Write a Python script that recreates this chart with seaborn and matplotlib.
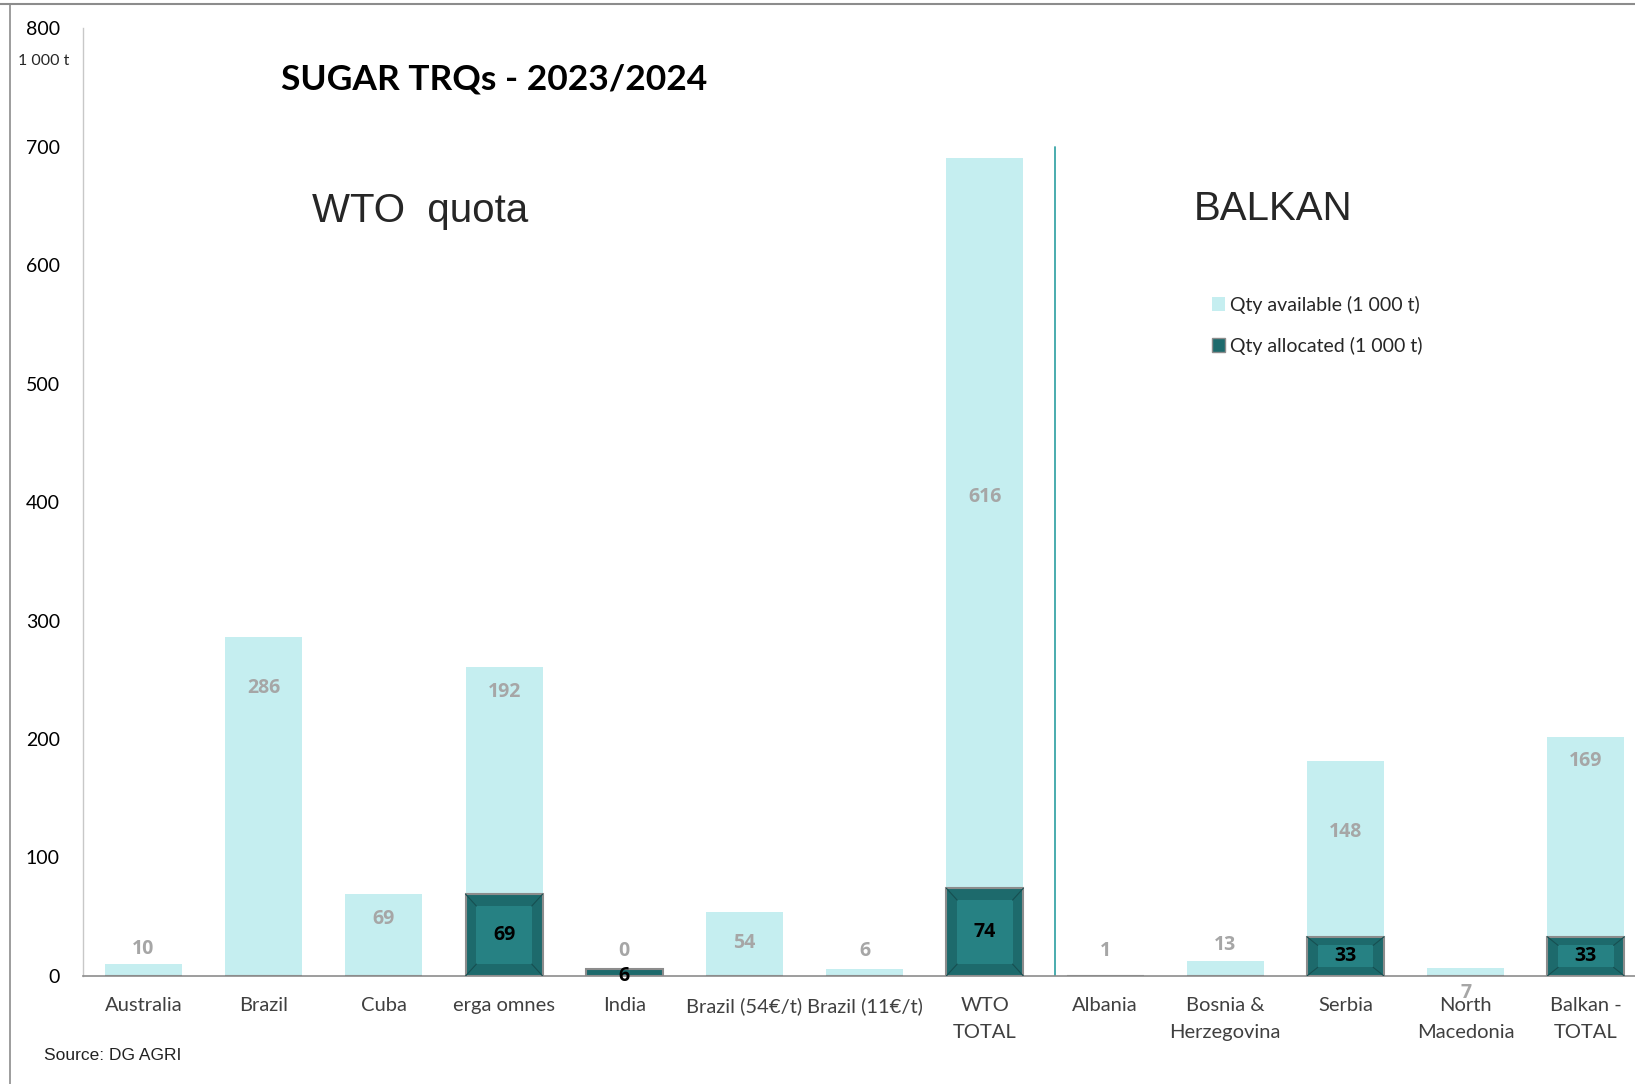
import matplotlib
matplotlib.use("Agg")
import matplotlib.pyplot as plt
import seaborn as sns
import pandas as pd
from matplotlib.patches import Patch, Rectangle
from matplotlib.lines import Line2D

# data (1 000 t)
categories = ['Australia', 'Brazil', 'Cuba', 'erga omnes', 'India',
              'Brazil (54€/t)', 'Brazil (11€/t)', 'WTO\nTOTAL', 'Albania',
              'Bosnia &\nHerzegovina', 'Serbia', 'North\nMacedonia',
              'Balkan -\nTOTAL']
qty_available = [10, 286, 69, 192, 0, 54, 6, 616, 1, 13, 148, 7, 169]
qty_allocated = [0, 0, 0, 69, 6, 0, 0, 74, 0, 0, 33, 0, 33]

df = pd.DataFrame({'cat': categories, 'avail': qty_available,
                   'alloc': qty_allocated})
df['total'] = df['avail'] + df['alloc']

LIGHT = '#c5eef0'
DARK = '#1d6a6c'
DARK_IN = '#268183'
GRAY_LBL = '#a6a6a6'

sns.set_theme(style='white')
plt.rcParams['font.family'] = ['Lato', 'DejaVu Sans']

fig = plt.figure(figsize=(16.35, 10.84), dpi=100)
ax = fig.add_axes([0.051, 0.0997, 0.9557, 0.8743])

sns.barplot(data=df, x='cat', y='total', order=categories, color=LIGHT,
            saturation=1, width=0.64, ax=ax, edgecolor='none')
n_light = len(ax.patches)
sns.barplot(data=df, x='cat', y='alloc', order=categories, color=DARK,
            saturation=1, width=0.64, ax=ax, edgecolor='#8c8c8c', linewidth=1.5)
dark_patches = ax.patches[n_light:]

# bevel look on allocated bars
for p in dark_patches:
    h = p.get_height()
    if h < 10:
        continue
    x0, w = p.get_x(), p.get_width()
    dx = w * 0.14
    dy = min(10, h * 0.22)
    ax.add_patch(Rectangle((x0 + dx, dy), w - 2 * dx, h - 2 * dy,
                           facecolor=DARK_IN, edgecolor='none',
                           zorder=p.get_zorder() + 0.1))
    # corner lines of the bevel
    for (xa, ya), (xb, yb) in [((x0, 0), (x0 + dx, dy)),
                               ((x0 + w, 0), (x0 + w - dx, dy)),
                               ((x0, h), (x0 + dx, h - dy)),
                               ((x0 + w, h), (x0 + w - dx, h - dy))]:
        ax.plot([xa, xb], [ya, yb], color='#174f51', lw=0.8, zorder=3)

ax.set_xlim(-0.5, len(categories) - 0.5)
ax.set_ylim(0, 800)
ax.set_yticks(range(0, 801, 100))
ax.set_xlabel('')
ax.set_ylabel('')
ax.tick_params(axis='y', length=0, pad=17, labelsize=14, labelcolor='#000000')
ax.tick_params(axis='x', length=0, pad=15, labelsize=14.5, labelcolor='#404040')
for lbl in ax.get_xticklabels():
    lbl.set_linespacing(1.7)
    lbl.set_va('top')
for s in ['top', 'right']:
    ax.spines[s].set_visible(False)
ax.spines['left'].set_color('#c8c8c8')
ax.spines['bottom'].set_color('#8c8c8c')
ax.spines['left'].set_linewidth(1)
ax.spines['bottom'].set_linewidth(1.2)

# value labels
lab_kw = dict(ha='center', va='center', fontsize=14, fontweight='bold',
              family='Open Sans')
for i, (a, b) in enumerate(zip(qty_available, qty_allocated)):
    top = a + b
    name = categories[i]
    if name == 'WTO\nTOTAL':
        y = b + a * 0.536
    elif name == 'Serbia':
        y = b + a * 0.6
    elif name == 'Brazil':
        y = top - 43
    elif a >= 60:
        y = top - 21
    elif a >= 40:
        y = top - 26
    elif name == 'North\nMacedonia':
        y = -14
    else:
        y = max(top + 13, 21)
    ax.text(i, y, str(a), color=GRAY_LBL, clip_on=False, **lab_kw)
    if b > 0:
        ax.text(i, b / 2 if b > 10 else 0, str(b), color='#000000',
                zorder=10, **lab_kw)

# separator between WTO and Balkan
ax.plot([7.58, 7.58], [0, 700], color='#3aa6a8', lw=1.3)

ax.text(2.3, 646, 'WTO  quota', fontsize=29, family='Liberation Sans',
        ha='center', va='center')
ax.text(9.4, 647, 'BALKAN', fontsize=29, family='Liberation Sans',
        ha='center', va='center')

fig.text(0.302, 1 - 79 / 1084, 'SUGAR TRQs - 2023/2024', fontsize=25.5,
         fontweight='bold', ha='center', va='center', color='#000000')
fig.text(0.027, 1 - 61 / 1084, '1 000 t', fontsize=11.5, ha='center', va='center')
fig.text(0.027, 1 - 1055 / 1084, 'Source: DG AGRI', fontsize=12.5,
         family='Liberation Sans', color='#222222', va='center', ha='left')

handles = [Patch(facecolor=LIGHT, edgecolor='none', label='Qty available (1 000 t)'),
           Patch(facecolor=DARK, edgecolor='#8c8c8c', label='Qty allocated (1 000 t)')]
fig.legend(handles=handles, loc='upper left',
           bbox_to_anchor=(1194 / 1635, 1 - 278 / 1084), frameon=False,
           fontsize=14, handlelength=0.7, handleheight=0.7,
           handletextpad=0.25, labelspacing=1.2)

# slide frame lines
fig.add_artist(Line2D([0, 1], [1 - 4 / 1084, 1 - 4 / 1084], color='#8c8c8c', lw=1.5))
fig.add_artist(Line2D([10 / 1635, 10 / 1635], [0, 1 - 4 / 1084], color='#8c8c8c', lw=1.2))

fig.savefig('out.png', dpi=100)
